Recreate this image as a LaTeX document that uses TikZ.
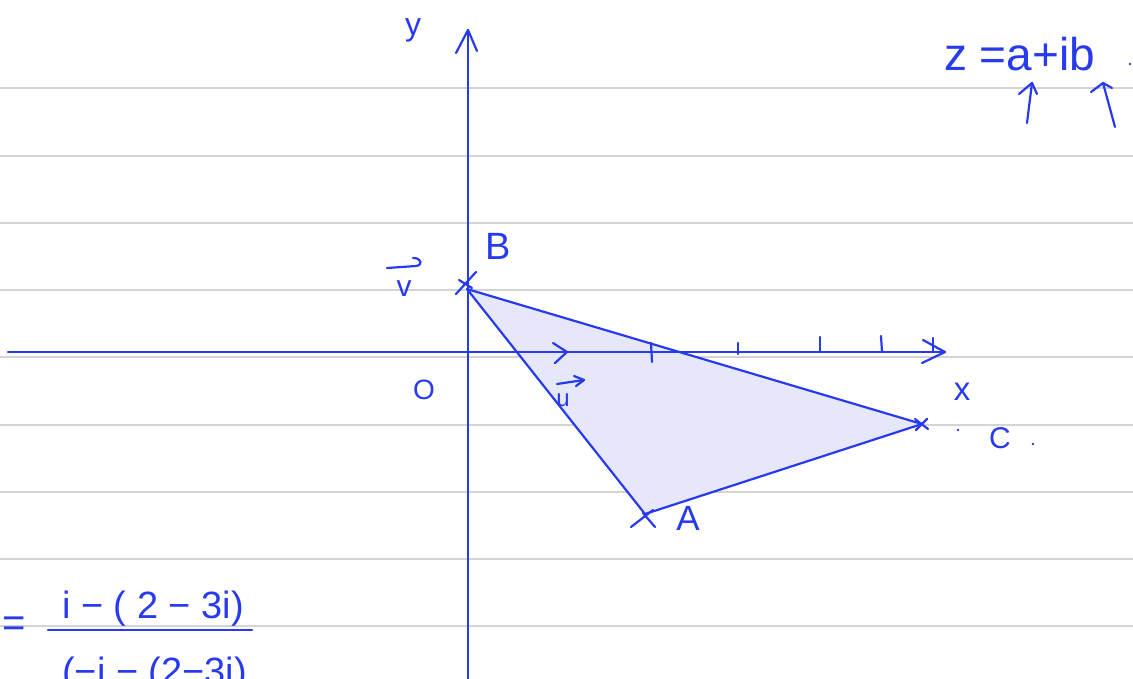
\documentclass[tikz,border=0pt]{standalone}
\usepackage{fontspec}
\setmainfont{Liberation Sans}
\definecolor{ink}{RGB}{40,58,238}
\definecolor{rulec}{RGB}{212,212,212}
\definecolor{fillc}{RGB}{230,232,250}
\begin{document}
\begin{tikzpicture}[x=1pt,y=-1pt,
  inkline/.style={draw=ink,line width=2.2pt,line cap=round,line join=round},
  lbl/.style={text=ink,inner sep=0pt,font=\fontsize{#1}{#1}\selectfont},
  ruleline/.style={draw=rulec,line width=1.3pt}]
\useasboundingbox (0,0) rectangle (1133,678);
\clip (0,0) rectangle (1133,678);
% ruled paper
\foreach \yy in {88,156,223,290,357,425,492,559,626}
  \draw[ruleline] (0,\yy) -- (1133,\yy);
% triangle
\coordinate (B) at (467,289);
\coordinate (C) at (922,424);
\coordinate (A) at (645,514);
\fill[fillc] (B) -- (C) -- (A) -- cycle;
\draw[inkline] (B) -- (C) -- (A) -- cycle;
% axes
\coordinate (yb) at (468,680);
\coordinate (yt) at (468,30);
\coordinate (xl) at (8,352);
\coordinate (xr) at (945,352);
\draw[inkline] (yb) -- (yt);
\draw[inkline] (456,53) -- (yt) -- (477,51);
\draw[inkline] (xl) -- (xr);
\draw[inkline] (923,340) -- (xr) -- (922,363);
% ticks
\draw[inkline] (651,343) -- (652,362);
\draw[inkline] (738,343) -- (738,354);
\draw[inkline] (820,337) -- (820,352);
\draw[inkline] (881,336) -- (882,352);
\draw[inkline] (933,338) -- (933,352);
% cross marks
\draw[inkline] (456,294) -- (476,272);
\draw[inkline] (459,280) -- (472,288);
\draw[inkline] (631,527) -- (653,510);
\draw[inkline] (643,513) -- (655,527);
\draw[inkline] (915,419) -- (928,429);
\draw[inkline] (916,430) -- (927,419);
% unit vector marks
\draw[inkline] (553,343) -- (567,352) -- (555,363);
% labels
\node[lbl=32] (ly) at (413,30) {y};
\node[lbl=38] (lB) at (498,246) {B};
\node[lbl=30] (lv) at (404,289) {v};
\draw[inkline] (387,268) -- (416,266) .. controls (423,265) and (422,258) .. (413,258);
\node[lbl=28] (lO) at (424,390) {O};
\node[lbl=24] (lu) at (563,400) {u};
\draw[inkline] (557,384) -- (584,380);
\draw[inkline] (574,376) -- (584,380) -- (576,386);
\node[lbl=33] (lx) at (962,392) {x};
\node[lbl=30] (lC) at (1000,438) {C};
\fill[ink] (958,430) circle (1.3pt);
\fill[ink] (1033,444) circle (1.3pt);
\node[lbl=35] (lA) at (688,518) {A};
% formula top right
\node[lbl=46,anchor=base west] (zf) at (944,70) {z =a+ib};
\fill[ink] (1130,64) circle (1.3pt);
\draw[inkline] (1027,123) -- (1032,83);
\draw[inkline] (1019,94) -- (1032,83) -- (1037,94);
\draw[inkline] (1115,127) -- (1103,83);
\draw[inkline] (1091,92) -- (1103,83) -- (1112,88);
% fraction bottom left
\node[lbl=40,anchor=base west] (eq) at (2,636) {=};
\node[lbl=38,anchor=base west] (num) at (62,618) {i − ( 2 − 3i)};
\coordinate (fl) at (48,630);
\coordinate (fr) at (252,630);
\draw[inkline] (fl) -- (fr);
\node[lbl=38,anchor=base west] (den) at (62,684) {(−i − (2−3i)};
\end{tikzpicture}
\end{document}
